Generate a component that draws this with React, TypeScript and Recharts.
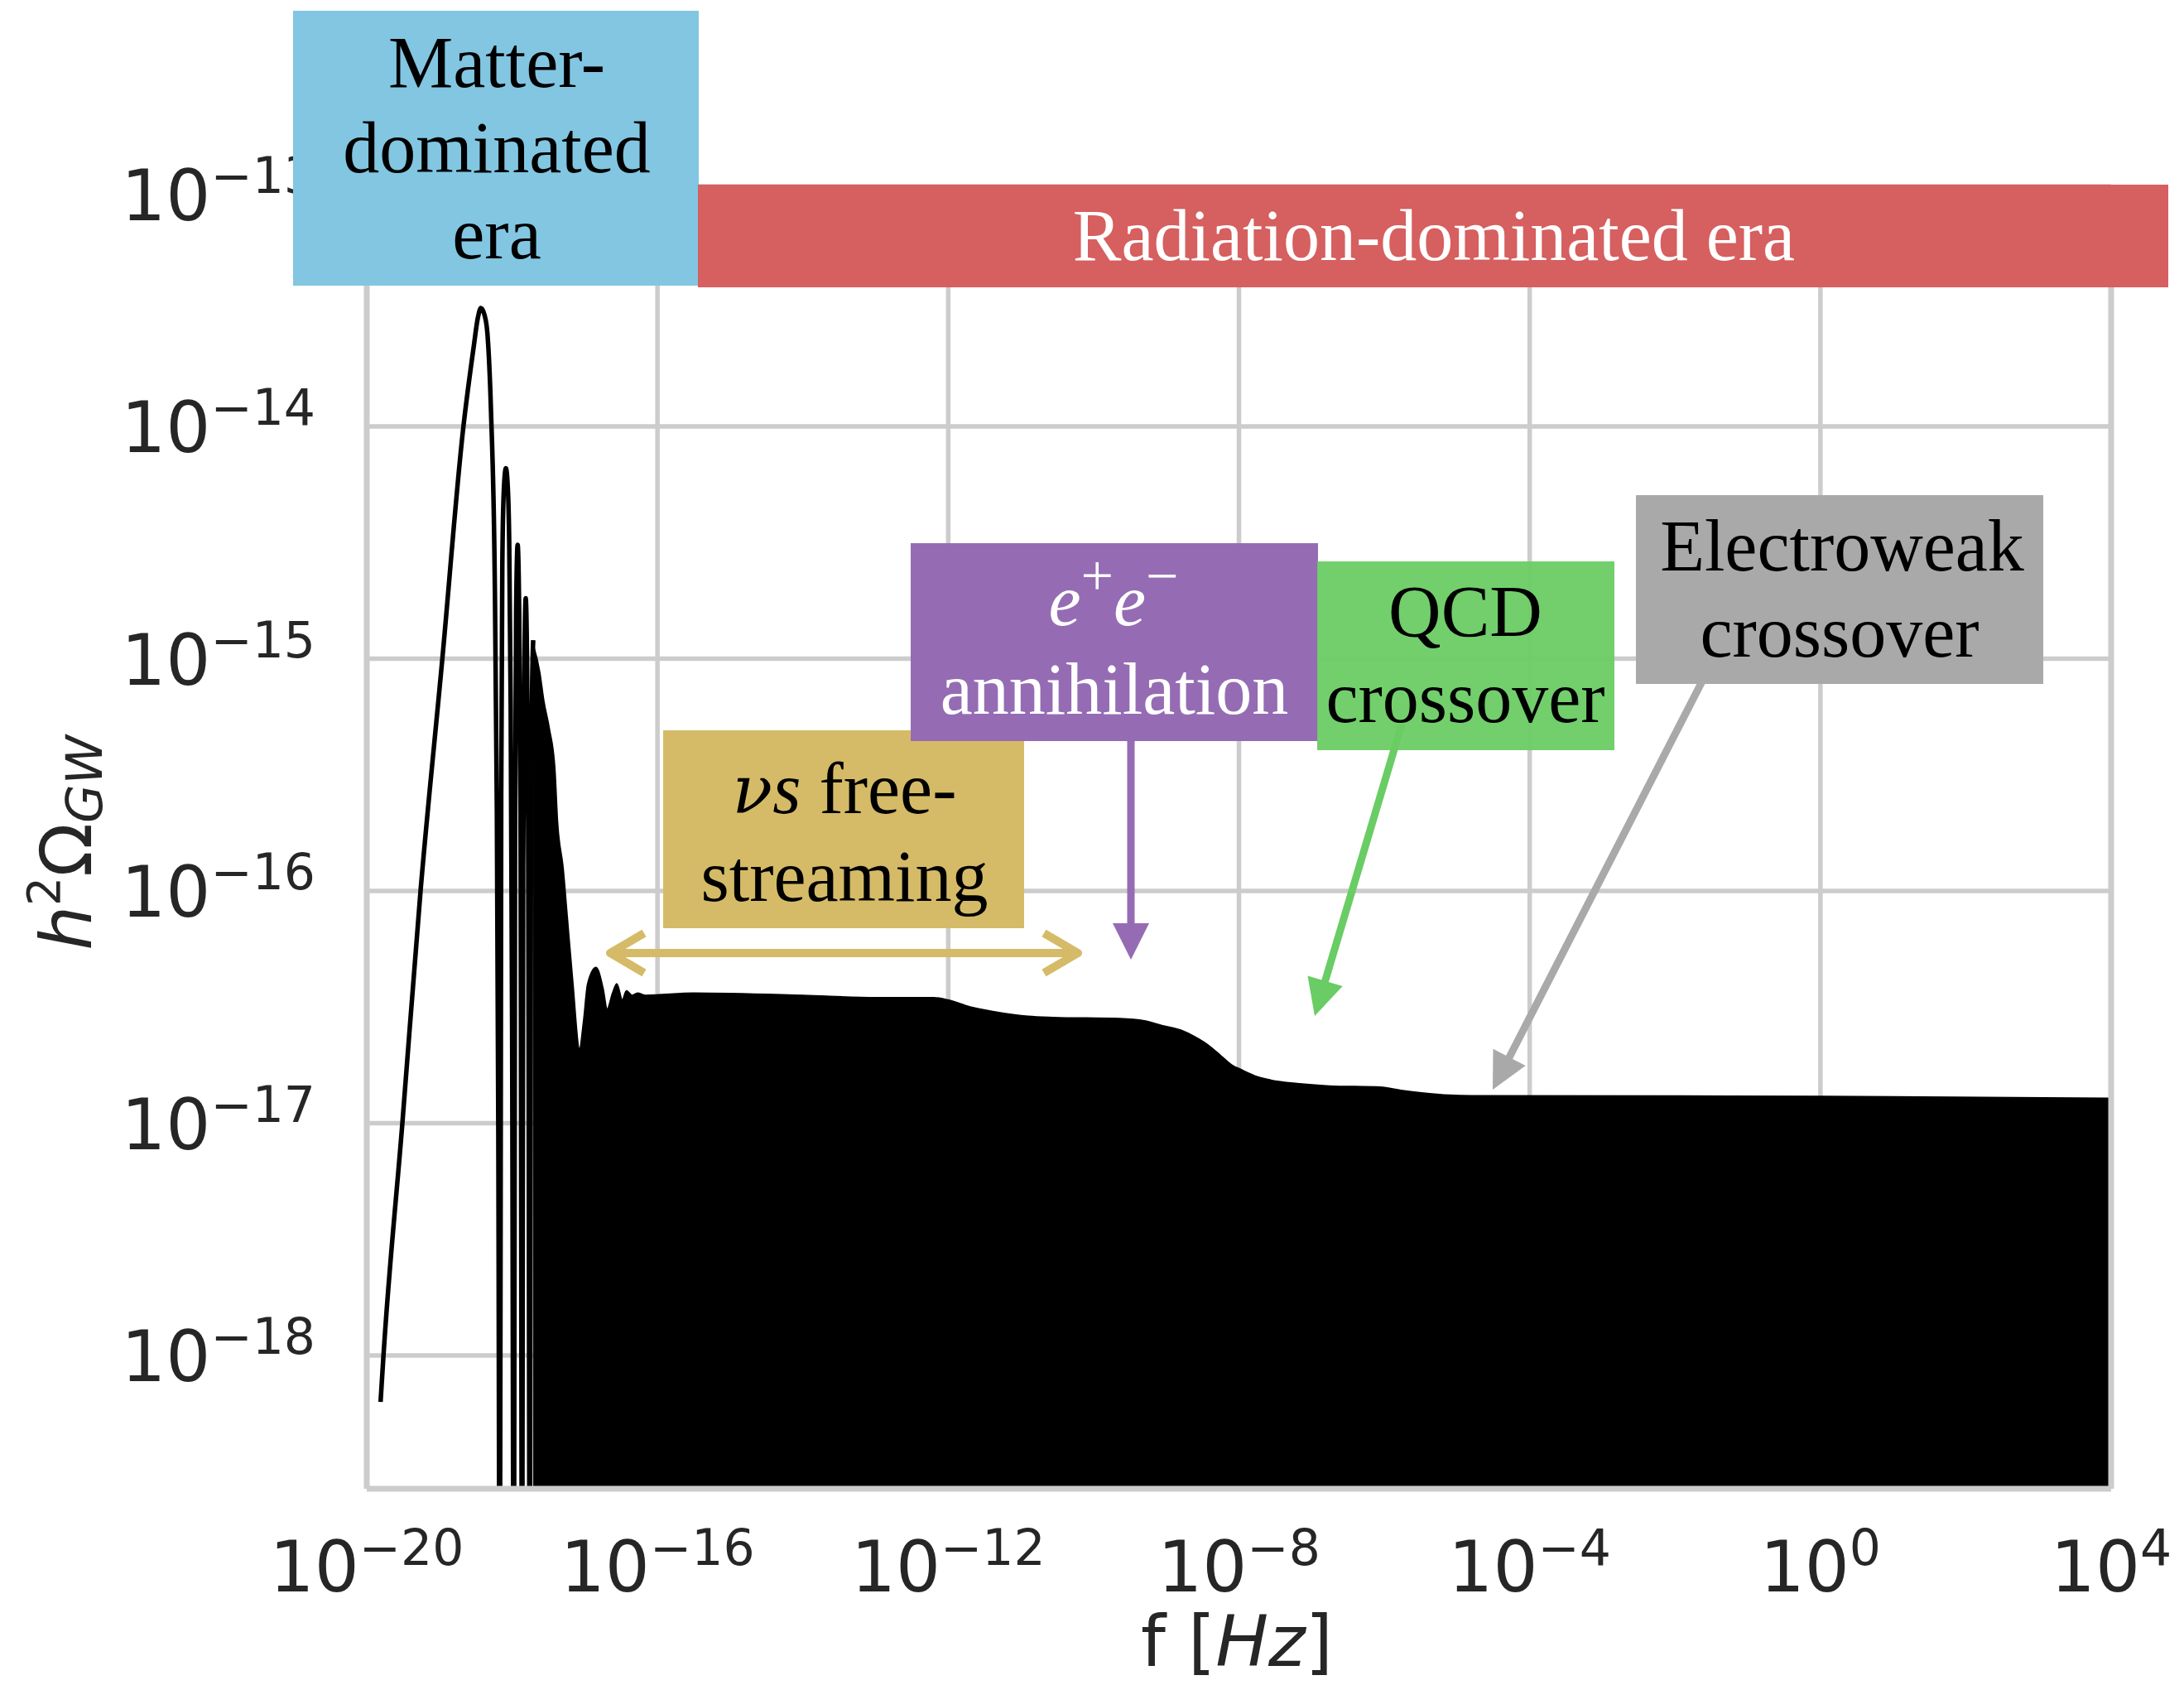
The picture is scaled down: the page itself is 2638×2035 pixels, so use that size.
import { ComposedChart, Line, Area, XAxis, YAxis, CartesianGrid, ReferenceLine } from 'recharts';

const W = 2638;
const H = 2035;

// axes are log-log: values below are log10(f [Hz]) and log10(h^2 Omega_GW)
const freqTicks = [-20, -16, -12, -8, -4, 0, 4];
const omegaTicks = [-18, -17, -16, -15, -14, -13];
const OMEGA_MIN = -18.574;
const OMEGA_MAX = -12.966;

// first oscillations, resolved as a thin line (dips fall below the axis)
const resolvedLogF = [
  -19.81, -19.77, -19.51, -19.26, -18.96, -18.67, -18.53, -18.47, -18.43, -18.38, -18.34, -18.29,
  -18.24, -18.21, -18.19, -18.17,
  -18.15, -18.135, -18.115, -18.086, -18.06, -18.04, -18.02, -18.0, -17.976,
  -17.96, -17.945, -17.924, -17.905, -17.885, -17.862,
  -17.848, -17.83, -17.813, -17.797, -17.78, -17.755,
  -17.742, -17.728, -17.71,
];
const resolvedLogOmega = [
  -18.2, -18.0, -17.0, -16.0, -15.0, -14.0, -13.66, -13.53, -13.49, -13.52, -13.6, -13.94,
  -14.63, -15.66, -17.04, -19.5,
  -15.6, -14.6, -14.28, -14.18, -14.26, -14.5, -15.2, -16.6, -19.5,
  -15.8, -14.8, -14.51, -14.75, -15.6, -19.5,
  -15.9, -15.0, -14.74, -14.95, -15.7, -19.5,
  -16.0, -15.2, -14.92,
];

// envelope of the dense oscillations, filled down to the axis
const envelopeLogF = [
  -17.71, -17.62, -17.566, -17.49, -17.414, -17.377, -17.3, -17.243, -17.167, -17.073,
  -17.016, -16.96, -16.845, -16.75, -16.693, -16.617, -16.56, -16.484, -16.427, -16.35,
  -16.275, -16.16, -15.5, -14.0, -13.0, -12.2, -12.0, -11.7, -11.37, -10.9, -10.56, -9.64,
  -9.3, -9.06, -8.8, -8.6, -8.4, -8.25, -8.1, -7.97, -7.75, -7.56, -7.2, -6.76, -6.06,
  -5.75, -5.49, -5.1, -4.8, 0, 4,
];
const envelopeLogOmega = [
  -14.94, -15.06, -15.18, -15.3, -15.47, -15.7, -15.9, -16.11, -16.39, -16.68,
  -16.56, -16.4, -16.33, -16.42, -16.51, -16.44, -16.4, -16.47, -16.43, -16.45,
  -16.44, -16.45, -16.44, -16.45, -16.46, -16.46, -16.47, -16.5, -16.52, -16.54, -16.545, -16.55,
  -16.56, -16.58, -16.6, -16.63, -16.67, -16.71, -16.75, -16.77, -16.8, -16.815, -16.83, -16.84, -16.845,
  -16.86, -16.87, -16.88, -16.882, -16.885, -16.893,
];

const resolvedData = resolvedLogF.map((logF, i) => ({ logF, logOmega: resolvedLogOmega[i] }));
const envelopeData = envelopeLogF.map((logF, i) => ({ logF, logOmega: envelopeLogOmega[i] }));

const TICK_FONT = 'DejaVu Sans';
const SERIF = '"Liberation Serif", "DejaVu Serif", serif';
const INK = '#262626';
const GRID = '#cccccc';

const expLabel = (v: number) => (v < 0 ? '\u2212' + Math.abs(v) : String(v));

function XTick(props: any) {
  const { x, y, payload } = props;
  return (
    <text x={x} y={y + 124} textAnchor="middle" fontFamily={TICK_FONT} fontSize={85} fill={INK}>
      10<tspan dy={-32} fontSize={60}>{expLabel(payload.value)}</tspan>
    </text>
  );
}

function YTick(props: any) {
  const { x, y, payload } = props;
  return (
    <text x={x - 62} y={y + 31} textAnchor="end" fontFamily={TICK_FONT} fontSize={85} fill={INK}>
      10<tspan dy={-33} fontSize={60}>{expLabel(payload.value)}</tspan>
    </text>
  );
}

function Arrow({ x1, y1, x2, y2, color }: { x1: number; y1: number; x2: number; y2: number; color: string }) {
  const len = 44;
  const half = 22;
  const L = Math.hypot(x2 - x1, y2 - y1);
  const ux = (x2 - x1) / L;
  const uy = (y2 - y1) / L;
  const bx = x2 - ux * len;
  const by = y2 - uy * len;
  const pts = `${x2},${y2} ${bx - uy * half},${by + ux * half} ${bx + uy * half},${by - ux * half}`;
  return (
    <g>
      <line x1={x1} y1={y1} x2={bx + ux * 2} y2={by + uy * 2} stroke={color} strokeWidth={9} />
      <polygon points={pts} fill={color} />
    </g>
  );
}

function Annotations() {
  const gold = '#d5bb67';
  return (
    <svg width={W} height={H} style={{ position: 'absolute', left: 0, top: 0, pointerEvents: 'none' }}>
      {/* axis titles */}
      <text transform="translate(110,1018) rotate(-90)" textAnchor="middle" fontFamily={TICK_FONT} fontSize={85} fill={INK}>
        <tspan fontStyle="italic">h</tspan>
        <tspan dy={-38} fontSize={55}>2</tspan>
        <tspan dy={38}>Ω</tspan>
        <tspan dy={13} fontSize={60} fontStyle="italic">GW</tspan>
      </text>
      <text x={1494} y={2012} textAnchor="middle" fontFamily={TICK_FONT} fontSize={85} fill={INK}>
        f [<tspan fontStyle="italic">Hz</tspan>]
      </text>

      {/* arrows, beneath the boxes */}
      <Arrow x1={1366} y1={890} x2={1366} y2={1159} color="#956cb4" />
      <Arrow x1={1693} y1={875} x2={1588} y2={1227} color="#6acc64" />
      <Arrow x1={2060} y1={815} x2={1803} y2={1316} color="#a9a9a9" />

      {/* free-streaming range */}
      <line x1={738} y1={1151} x2={1300} y2={1151} stroke={gold} strokeWidth={10} />
      <polyline points="778,1127 737,1151 778,1175" fill="none" stroke={gold} strokeWidth={10} strokeLinejoin="round" />
      <polyline points="1261,1127 1302,1151 1261,1175" fill="none" stroke={gold} strokeWidth={10} strokeLinejoin="round" />

      {/* era banners */}
      <rect x={354} y={13} width={490} height={332} fill="#82c6e2" />
      <rect x={843} y={223} width={1776} height={124} fill="#d65f5f" />
      <g fontFamily={SERIF} fontSize={88} textAnchor="middle" fill="#000">
        <text x={600} y={105}>Matter-</text>
        <text x={600} y={208}>dominated</text>
        <text x={600} y={312}>era</text>
      </g>
      <text x={1732} y={314} fontFamily={SERIF} fontSize={88} textAnchor="middle" fill="#fff">
        Radiation-dominated era
      </text>

      {/* event boxes */}
      <rect x={801} y={882} width={436} height={239} fill={gold} />
      <rect x={1100} y={656} width={492} height={239} fill="#956cb4" />
      <rect x={1591} y={678} width={359} height={228} fill="#6acc64" fillOpacity={0.95} />
      <rect x={1976} y={598} width={492} height={228} fill="#a9a9a9" />

      <g fontFamily={SERIF} fontSize={88} textAnchor="middle">
        <text x={1020} y={982} fill="#000">
          <tspan fontStyle="italic" fontFamily='"DejaVu Serif", serif' fontSize={80}>ν</tspan>
          <tspan fontStyle="italic">s</tspan> free-
        </text>
        <text x={1020} y={1088} fill="#000">streaming</text>

        <text x={1345} y={755} fill="#fff">
          <tspan fontStyle="italic">e</tspan>
          <tspan dy={-36} fontSize={70}>+</tspan>
          <tspan dy={36} fontStyle="italic">e</tspan>
          <tspan dy={-36} fontSize={70}>{'\u2212'}</tspan>
        </text>
        <text x={1346} y={862} fill="#fff">annihilation</text>

        <text x={1770} y={768} fill="#000">QCD</text>
        <text x={1770} y={872} fill="#000">crossover</text>

        <text x={2225} y={689} fill="#000">Electroweak</text>
        <text x={2222} y={793} fill="#000">crossover</text>
      </g>
    </svg>
  );
}

export default function App() {
  return (
    <div style={{ position: 'absolute', left: 0, top: 0, width: W, height: H, background: '#fff', overflow: 'hidden' }}>
      <ComposedChart width={W} height={H} margin={{ top: 225, right: 88, bottom: 0, left: 0 }}>
        <CartesianGrid stroke={GRID} strokeWidth={5.5} />
        <XAxis
          dataKey="logF"
          type="number"
          domain={[-20, 4]}
          ticks={freqTicks}
          interval={0}
          height={237}
          tickSize={0}
          tickMargin={0}
          tickLine={false}
          axisLine={{ stroke: GRID, strokeWidth: 7 }}
          tick={<XTick />}
        />
        <YAxis
          type="number"
          domain={[OMEGA_MIN, OMEGA_MAX]}
          ticks={omegaTicks}
          interval={0}
          allowDataOverflow
          width={443}
          tickSize={0}
          tickMargin={0}
          tickLine={false}
          axisLine={{ stroke: GRID, strokeWidth: 7 }}
          tick={<YTick />}
        />
        <Area
          data={envelopeData}
          dataKey="logOmega"
          type="monotone"
          baseValue={OMEGA_MIN}
          stroke="#000"
          strokeWidth={2}
          fill="#000"
          fillOpacity={1}
          dot={false}
          activeDot={false}
          isAnimationActive={false}
        />
        <Line
          data={resolvedData}
          dataKey="logOmega"
          type="monotone"
          stroke="#000"
          strokeWidth={5.5}
          strokeLinejoin="round"
          dot={false}
          activeDot={false}
          isAnimationActive={false}
        />
        <ReferenceLine x={4} stroke={GRID} strokeWidth={7} />
      </ComposedChart>
      <Annotations />
    </div>
  );
}
